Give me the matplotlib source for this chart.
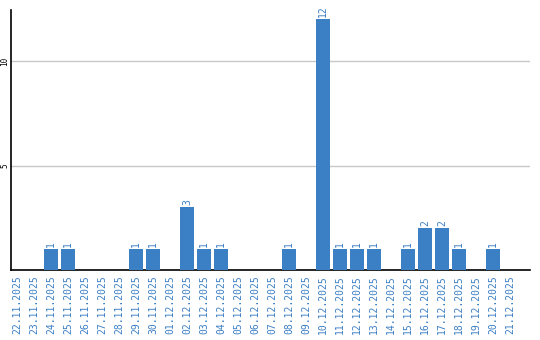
import numpy as np
import matplotlib
matplotlib.use("Agg")
import matplotlib.pyplot as plt

dates = ["22.11.2025", "23.11.2025", "24.11.2025", "25.11.2025", "26.11.2025",
         "27.11.2025", "28.11.2025", "29.11.2025", "30.11.2025", "01.12.2025",
         "02.12.2025", "03.12.2025", "04.12.2025", "05.12.2025", "06.12.2025",
         "07.12.2025", "08.12.2025", "09.12.2025", "10.12.2025", "11.12.2025",
         "12.12.2025", "13.12.2025", "14.12.2025", "15.12.2025", "16.12.2025",
         "17.12.2025", "18.12.2025", "19.12.2025", "20.12.2025", "21.12.2025"]
counts = [0, 0, 1, 1, 0, 0, 0, 1, 1, 0,
          3, 1, 1, 0, 0, 0, 1, 0, 12, 1,
          1, 1, 0, 1, 2, 2, 1, 0, 1, 0]
yticks = [5, 10]

blue = "#3b7fc4"

fig = plt.figure(figsize=(5.4, 3.4), dpi=100)
ax = fig.add_axes([11/540, 70/340, 519/540, 260/340])

x = np.arange(len(dates))
ax.bar(x, counts, width=0.82, color=blue, zorder=3)
for xi, c in zip(x, counts):
    if c > 0:
        ax.text(xi, c + 0.1, str(c), rotation=90, ha="center", va="bottom",
                color=blue, fontsize=7, family="DejaVu Sans Mono")

ax.set_xlim(-0.35, 30.18)
ax.set_ylim(0, 12.45)
ax.set_yticks(yticks)
ax.set_yticklabels([str(t) for t in yticks], rotation=90, fontsize=5.5,
                   family="DejaVu Sans Mono", va="center")
ax.yaxis.grid(True, color="#c8c8c8", linewidth=1, zorder=0)
ax.tick_params(axis="y", length=0, pad=1)
ax.set_xticks(x)
ax.set_xticklabels(dates, rotation=90, fontsize=7, color=blue,
                   family="DejaVu Sans Mono")
ax.tick_params(axis="x", length=0, pad=4)

for s in ["top", "right"]:
    ax.spines[s].set_visible(False)
ax.spines["left"].set_linewidth(1.2)
ax.spines["bottom"].set_linewidth(1.2)

fig.savefig("out.png", dpi=100)
